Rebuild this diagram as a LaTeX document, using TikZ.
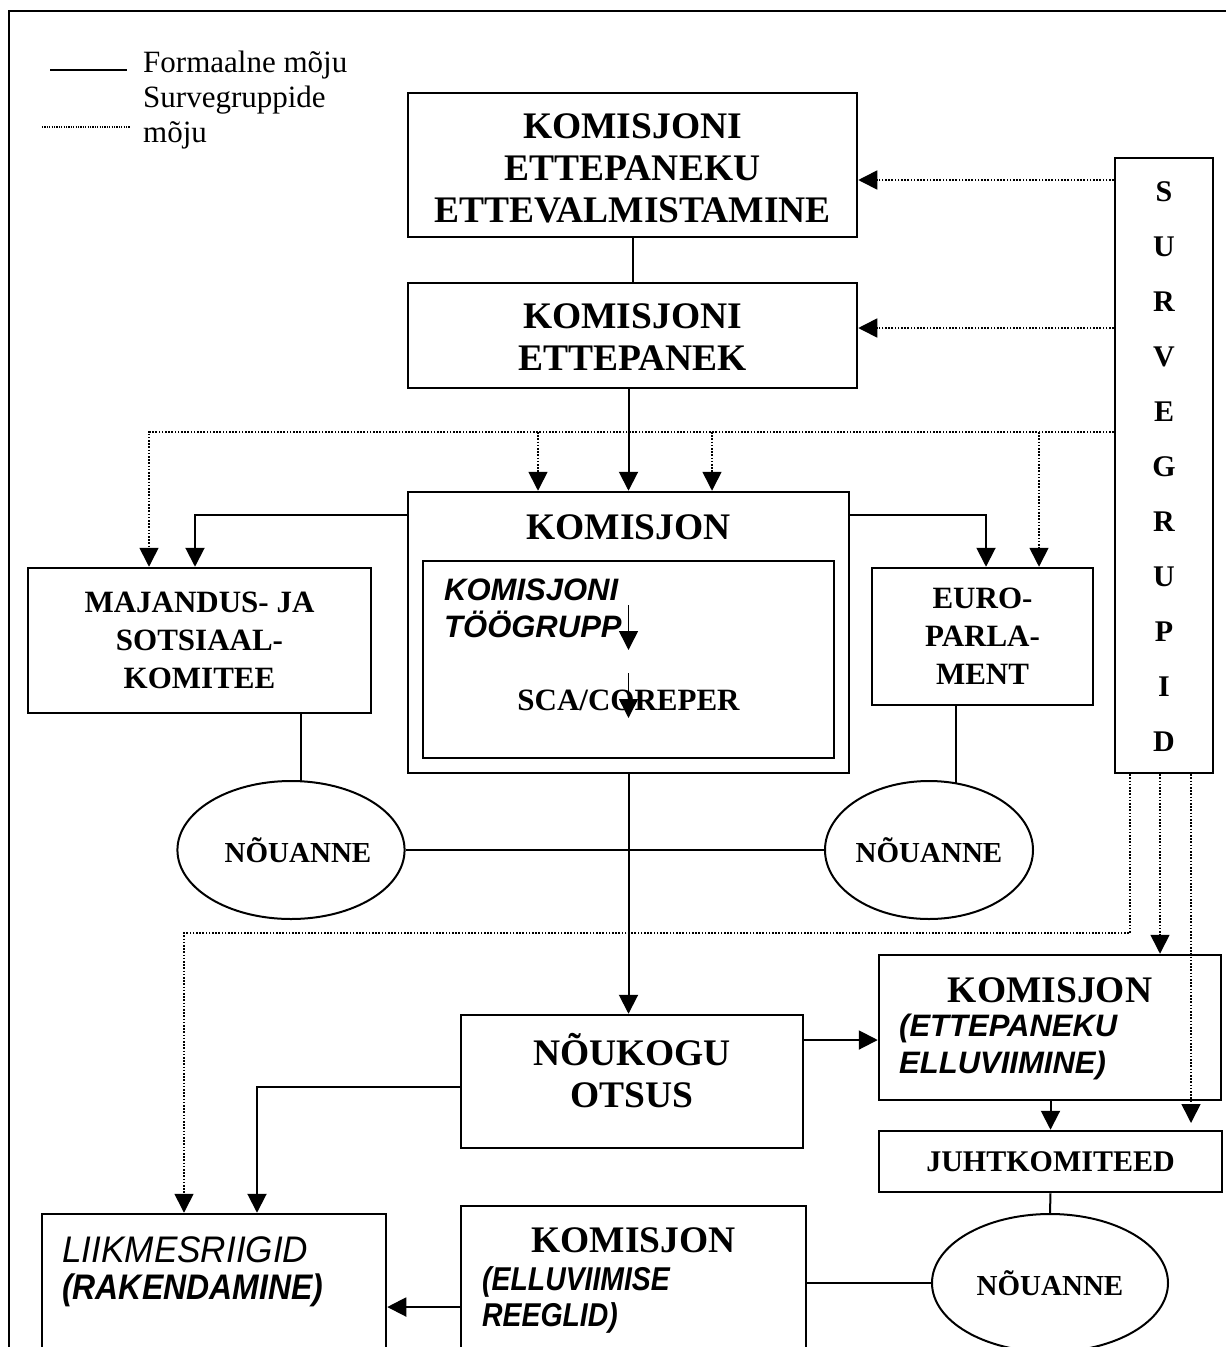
\documentclass[tikz,border=0pt]{standalone}
\usepackage{fontspec}
\setmainfont{Liberation Serif}
\setsansfont{Liberation Sans}
\newfontfamily\cndA[FakeStretch=0.95]{Liberation Sans}
\newfontfamily\cndB[FakeStretch=0.9]{Liberation Sans}
\newfontfamily\cndC[FakeStretch=0.86]{Liberation Sans}
\usetikzlibrary{arrows.meta,shapes.geometric}
\begin{document}
\begin{tikzpicture}[x=1pt,y=-1pt,
  box/.style={draw,line width=2.5pt,rectangle,inner sep=0pt},
  conn/.style={line width=2pt},
  dotl/.style={line width=1.6pt,dash pattern=on 1.6pt off 1.6pt},
  arr/.style={-{Triangle[length=19pt,width=19pt]}},
  txt/.style={inner sep=0pt},
  big/.style={font=\fontsize{37.5}{42}\selectfont\bfseries,align=center},
  mid/.style={font=\fontsize{31}{38}\selectfont\bfseries,align=center},
  sbi/.style={inner sep=0pt,font=\fontsize{31}{37}\selectfont\sffamily\bfseries\itshape,align=left},
  ell/.style={draw,ellipse,line width=2pt,inner sep=0pt,font=\fontsize{29}{34}\selectfont\bfseries},
]
\useasboundingbox (0,0) rectangle (1226,1347);
% frame
\draw[line width=2.5pt] (9,1370) -- (9,11) -- (1240,11);
% legend
\coordinate (lg1a) at (50,70); \coordinate (lg1b) at (127,70);
\coordinate (lg2a) at (42,127); \coordinate (lg2b) at (130,127);
\draw[conn] (lg1a) -- (lg1b);
\draw[dotl,line width=1.2pt,dash pattern=on 1.2pt off 1.2pt] (lg2a) -- (lg2b);
\node[txt,anchor=base west,font=\fontsize{31}{35}\selectfont] (l1) at (143,72) {Formaalne mõju};
\node[txt,anchor=base west,font=\fontsize{31}{35}\selectfont] (l2) at (143,107) {Survegruppide};
\node[txt,anchor=base west,font=\fontsize{31}{35}\selectfont] (l3) at (143,142) {mõju};

% boxes
\node[box,minimum width=449pt,minimum height=144pt] (prep) at (632.5,165) {};
\node[txt,big] (prept) at (632.5,168) {KOMISJONI\\ETTEPANEKU\\ETTEVALMISTAMINE};
\node[box,minimum width=449pt,minimum height=105pt] (prop) at (632.5,335.5) {};
\node[txt,big] (propt) at (632.5,337) {KOMISJONI\\ETTEPANEK};

\node[box,minimum width=441pt,minimum height=281pt] (kom) at (628.5,632.5) {};
\node[box,line width=2pt,minimum width=411pt,minimum height=197pt] (inner) at (628.5,659.5) {};
\node[txt,big] (komt) at (628.5,527) {KOMISJON};
\node[sbi,anchor=west] (tg) at (444,608) {KOMISJONI\\TÖÖGRUPP};
\node[txt,mid] (sca) at (628.5,700) {SCA/COREPER};

\node[box,minimum width=343pt,minimum height=145pt,mid] (maj) at (199.5,640.5) {MAJANDUS- JA\\SOTSIAAL-\\KOMITEE};
\node[box,minimum width=221pt,minimum height=137pt,mid] (ep) at (982.5,636.5) {EURO-\\PARLA-\\MENT};

\node[box,minimum width=98pt,minimum height=615pt] (sg) at (1164,465.5) {};
\node[txt,font=\fontsize{30}{55}\selectfont\bfseries,align=center] (sgt) at (1164,467) {S\\U\\R\\V\\E\\G\\R\\U\\P\\I\\D};

\node[ell,minimum width=210pt,minimum height=138pt] (n1) at (291,850) {\hspace*{14pt}NÕUANNE};
\node[ell,minimum width=208pt,minimum height=138pt] (n2) at (929,850) {NÕUANNE};
\node[ell,minimum width=236pt,minimum height=138pt] (n3) at (1050,1283) {NÕUANNE};

\node[box,minimum width=342pt,minimum height=133pt] (nk) at (632,1081.5) {};
\node[txt,big] (nkt) at (632,1071) {NÕUKOGU\\OTSUS};

\node[box,minimum width=342pt,minimum height=145pt] (ke) at (1050,1027.5) {};
\node[txt,big] (ket) at (1050,990) {KOMISJON};
\node[sbi,anchor=west] (kes) at (899,1047) {(ETTEPANEKU\\ELLUVIIMINE)};

\node[box,minimum width=343pt,minimum height=61pt,font=\fontsize{30}{34}\selectfont\bfseries] (jk) at (1050.5,1161.5) {JUHTKOMITEED};

\node[box,minimum width=345pt,minimum height=170pt] (kr) at (633.5,1291) {};
\node[txt,big] (krt) at (633.5,1240) {KOMISJON};
\node[txt,anchor=west,font=\fontsize{33}{36}\selectfont\cndC\bfseries\itshape] (krs1) at (482,1282) {(ELLUVIIMISE};
\node[txt,anchor=west,font=\fontsize{33}{36}\selectfont\cndC\bfseries\itshape] (krs2) at (482,1318) {REEGLID)};

\node[box,minimum width=344pt,minimum height=160pt] (lr) at (214,1294) {};
\node[txt,anchor=west,font=\fontsize{37}{40}\selectfont\cndA\itshape] (lrt1) at (62,1250) {LIIKMESRIIGID};
\node[txt,anchor=west,font=\fontsize{35.5}{40}\selectfont\cndB\bfseries\itshape] (lrt2) at (62,1290) {(RAKENDAMINE)};

% connectors
\draw[conn] (prep.south) -- (prop.north);
\draw[conn,arr] (prop.south -| kom.north) -- (kom.north);
\draw[line width=1.5pt,arr] (inner.north) ++(0,45) -- ++(0,45);
\draw[line width=1.5pt,arr] (inner.north) ++(0,113) -- ++(0,45);

\draw[dotl,arr] (sg.west |- 0,180) -- (prep.east |- 0,180);
\draw[dotl,arr] (sg.west |- 0,328) -- (prop.east |- 0,328);

\coordinate (dA) at (538,432);
\coordinate (dB) at (712,432);
\coordinate (dC) at (1039,432);
\draw[dotl,arr] (sg.west |- 0,432) -| (maj.north -| 149,0);
\draw[dotl,arr] (dA) -- (kom.north -| dA);
\draw[dotl,arr] (dB) -- (kom.north -| dB);
\draw[dotl,arr] (dC) -- (ep.north -| dC);

\draw[conn,arr] (kom.west |- 0,515) -| (maj.north -| 195,0);
\draw[conn,arr] (kom.east |- 0,515) -| (ep.north -| 986,0);

\coordinate (e1) at (301,782);
\coordinate (e2) at (956,783);
\draw[conn] (maj.south -| e1) -- (e1);
\draw[conn] (ep.south -| e2) -- (e2);
\draw[conn] (n1.east) -- (n2.west);

\draw[conn,arr] (kom.south) -- (kom.south |- nk.north);
\draw[conn,arr] (nk.east |- 0,1040) -- (ke.west |- 0,1040);
\draw[conn,arr] (nk.west |- 0,1087) -| (lr.north -| 257,0);

\coordinate (t1) at (184,933);
\draw[dotl,arr] (sg.south -| 1130,0) |- (t1) -- (lr.north -| t1);
\draw[dotl,arr] (sg.south -| 1160,0) -- (ke.north -| 1160,0);
\draw[dotl,arr] (sg.south -| 1191,0) -- (1191,1123);

\draw[conn,arr] (ke.south -| jk.north) -- (jk.north);
\draw[conn] (jk.south) -- (n3.north);
\draw[conn] (n3.west) -- (kr.east |- n3.west);
\draw[conn,arr] (kr.west |- 0,1307) -- (lr.east |- 0,1307);
\end{tikzpicture}
\end{document}
